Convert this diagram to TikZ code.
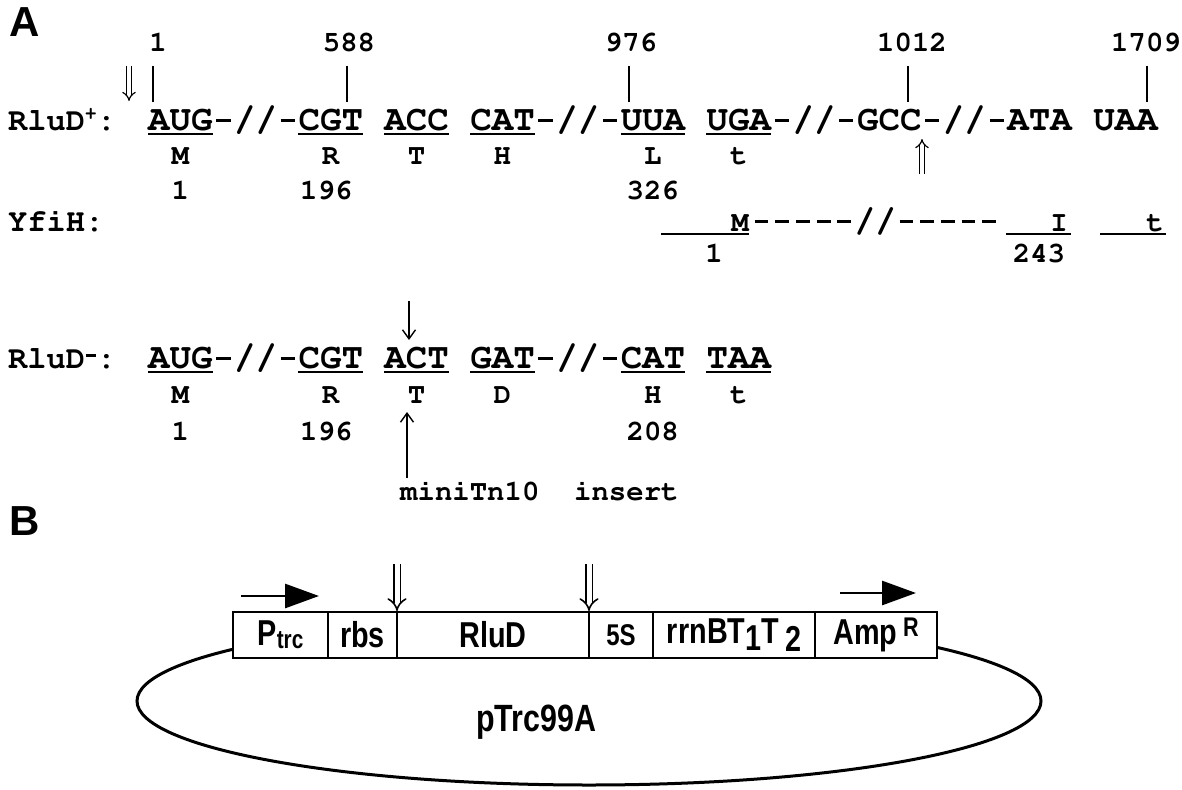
\documentclass[tikz,border=0pt]{standalone}
\usepackage[T1]{fontenc}
\usepackage{fontspec}
\setmainfont{Liberation Sans}
\newfontfamily\sansfam{Liberation Sans}
\newfontfamily\condfam{Liberation Sans}[FakeStretch=0.8]
\usetikzlibrary{arrows.meta}
\newcommand\courb[1]{\fontencoding{T1}\fontfamily{pcr}\fontseries{b}\fontshape{n}\fontsize{#1}{#1}\selectfont}
\newcommand\cdf{\courb{35.8pt}}
\newcommand\dshf{\courb{34.5pt}}
\newcommand\smf{\courb{29pt}}
\newcommand\lbf{\courb{32pt}}
\newcommand\insf{\courb{29pt}}
\newcommand\hy{\hbox to 0.6em{\hss\rule[0.22em]{0.4em}{0.09em}\hss}}
\def\cx#1{{148+21.48*(#1)}}
\tikzset{
  codon/.style={font=\cdf, anchor=base west, inner sep=0pt},
  aa/.style={font=\smf, anchor=base, inner sep=0pt},
  rowlabel/.style={font=\lbf, anchor=base west, inner sep=0pt},
  panel/.style={font=\sansfam\bfseries\fontsize{42pt}{42pt}\selectfont, anchor=north west, inner sep=0pt},
  tickline/.style={line width=2.5pt},
  uline/.style={line width=2pt},
  dbl/.style={double, double distance=3.5pt, line width=1.2pt, -{Implies}},
  bigdbl/.style={double, double distance=5pt, line width=1.6pt, -{Implies}},
  thinarrow/.style={line width=1.4pt, -{Straight Barb[length=9pt,width=13pt]}},
  fatarrow/.style={line width=2.8pt, -{Triangle[length=34pt,width=24pt]}},
  seg/.style={draw, line width=2.5pt, fill=white, minimum height=46pt, inner sep=0pt, font=\condfam\bfseries\fontsize{36pt}{36pt}\selectfont},
}
\begin{document}
\begin{tikzpicture}[x=1pt,y=-1pt]
\useasboundingbox (0,0) rectangle (1182,789);
\fill[white] (0,0) rectangle (1182,789);

% ---------- Panel A ----------
\node[panel] (lblA) at (9,7) {A};

% top numbers
\node[aa] (n1)    at (158,52)  {1};
\node[aa] (n588)  at (349,52)  {588};
\node[aa] (n976)  at (631,52)  {976};
\node[aa] (n1012) at (912,52)  {1012};
\node[aa] (n1709) at (1146,52) {1709};
\coordinate (t1a) at (153,66);    \coordinate (t1b) at (153,102);
\coordinate (t2a) at (347,66);    \coordinate (t2b) at (347,102);
\coordinate (t3a) at (629,66);    \coordinate (t3b) at (629,102);
\coordinate (t4a) at (908,66);    \coordinate (t4b) at (908,102);
\coordinate (t5a) at (1147,66);   \coordinate (t5b) at (1147,102);
\draw[tickline] (t1a) -- (t1b);
\draw[tickline] (t2a) -- (t2b);
\draw[tickline] (t3a) -- (t3b);
\draw[tickline] (t4a) -- (t4b);
\draw[tickline] (t5a) -- (t5b);
\coordinate (da) at (129,66); \coordinate (db) at (129,101);
\draw[dbl] (da) -- (db);

% RluD+ row
\node[rowlabel] (lplus) at (8,130) {RluD\raisebox{10pt}{\courb{20pt}+}:};
\node[codon] (c1) at (\cx{0},130)  {AUG};
\node[codon] (s1) at (\cx{3},130)  {\hy//\hy};
\node[codon] (c2) at (\cx{7},130)  {CGT};
\node[codon] (c3) at (\cx{11},130) {ACC};
\node[codon] (c4) at (\cx{15},130) {CAT};
\node[codon] (s2) at (\cx{18},130) {\hy//\hy};
\node[codon] (c5) at (\cx{22},130) {UUA};
\node[codon] (c6) at (\cx{26},130) {UGA};
\node[codon] (s3) at (\cx{29},130) {\hy//\hy GCC\hy//\hy ATA};
\node[codon] (c7) at (\cx{44},130) {UAA};
\foreach \n in {c1,c2,c3,c4,c5,c6}
  \draw[uline] ([yshift=-4pt]\n.base west) -- ([yshift=-4pt]\n.base east);
\coordinate (ua) at (922,174); \coordinate (ub) at (922,139);
\draw[dbl] (ua) -- (ub);

\node[aa] (a1) at (\cx{1.5},164)  {M};
\node[aa] (a2) at (\cx{8.5},164)  {R};
\node[aa] (a3) at (\cx{12.5},164) {T};
\node[aa] (a4) at (\cx{16.5},164) {H};
\node[aa] (a5) at (\cx{23.5},164) {L};
\node[aa] (a6) at (\cx{27.5},164) {t};
\node[aa] (p1) at (\cx{1.5},199)  {1};
\node[aa] (p2) at (\cx{8.3},199)  {196};
\node[aa] (p3) at (\cx{23.5},199) {326};

% YfiH row
\node[rowlabel] (lyfih) at (8,231) {YfiH:};
\node[aa, anchor=base east] (ym) at (749,231) {M};
\node[anchor=base west, inner sep=0pt, font=\dshf] (yd) at (751,231) {\hy\hy\hy\hy\hy//\hy\hy\hy\hy\hy};
\node[aa, anchor=base east] (yi) at (1068,231) {I};
\node[aa, anchor=base east] (yt) at (1164,231) {t};
\coordinate (y1a) at (661,234);  \coordinate (y1b) at (749,234);
\coordinate (y2a) at (1006,234); \coordinate (y2b) at (1071,234);
\coordinate (y3a) at (1100,234); \coordinate (y3b) at (1166,234);
\draw[uline] (y1a) -- (y1b);
\draw[uline] (y2a) -- (y2b);
\draw[uline] (y3a) -- (y3b);
\node[aa] (yn1) at (714,262)  {1};
\node[aa] (yn2) at (1039,262) {243};

% RluD- row
\coordinate (dwa) at (409,301); \coordinate (dwb) at (409,340);
\draw[thinarrow] (dwa) -- (dwb);
\node[rowlabel] (lminus) at (8,368) {RluD\raisebox{11pt}{\hbox to 12pt{\hss\rule{10pt}{2.6pt}\hss}}:};
\node[codon] (m1) at (\cx{0},368)  {AUG};
\node[codon] (r1) at (\cx{3},368)  {\hy//\hy};
\node[codon] (m2) at (\cx{7},368)  {CGT};
\node[codon] (m3) at (\cx{11},368) {ACT};
\node[codon] (m4) at (\cx{15},368) {GAT};
\node[codon] (r2) at (\cx{18},368) {\hy//\hy};
\node[codon] (m5) at (\cx{22},368) {CAT};
\node[codon] (m6) at (\cx{26},368) {TAA};
\foreach \n in {m1,m2,m3,m4,m5,m6}
  \draw[uline] ([yshift=-4pt]\n.base west) -- ([yshift=-4pt]\n.base east);
\node[aa] (b1) at (\cx{1.5},403)  {M};
\node[aa] (b2) at (\cx{8.5},403)  {R};
\node[aa] (b3) at (\cx{12.5},403) {T};
\node[aa] (b4) at (\cx{16.5},403) {D};
\node[aa] (b5) at (\cx{23.5},403) {H};
\node[aa] (b6) at (\cx{27.5},403) {t};
\node[aa] (q1) at (\cx{1.5},440)  {1};
\node[aa] (q2) at (\cx{8.3},440)  {196};
\node[aa] (q3) at (\cx{23.5},440) {208};
\node[anchor=base west, inner sep=0pt, font=\insf] (ins) at (400,500) {miniTn10\hspace{17.4pt}\hspace{17.4pt}insert};
\coordinate (upa) at (407,478); \coordinate (upb) at (407,412);
\draw[thinarrow] (upa) -- (upb);

% ---------- Panel B ----------
\node[panel] (lblB) at (9,506) {B};

\draw[line width=3pt] (589,701) ellipse [x radius=452pt, y radius=84pt];

\node[seg, minimum width=95pt]  (ptrc) at (280.5,635) {P\raisebox{-3pt}{\fontsize{26pt}{26pt}\selectfont trc}};
\node[seg, minimum width=69pt]  (rbs)  at (362.5,635) {rbs};
\node[seg, minimum width=192pt] (rlud) at (493,635)   {RluD};
\node[seg, minimum width=64pt, font=\condfam\bfseries\fontsize{30pt}{30pt}\selectfont] (fives) at (621,635) {5S};
\node[seg, minimum width=162pt] (rrnb) at (734,635)   {rrnBT\raisebox{-7pt}{1}T\raisebox{-8pt}{\,2}};
\node[seg, minimum width=122pt] (amp)  at (876,635)   {Amp\,\raisebox{8pt}{\fontsize{27pt}{27pt}\selectfont R}};

\coordinate (pa) at (241,596); \coordinate (pb) at (319,596);
\draw[fatarrow] (pa) -- (pb);
\coordinate (aa1) at (840,593); \coordinate (aa2) at (916,593);
\draw[fatarrow] (aa1) -- (aa2);

\coordinate (d1a) at (397,564); \coordinate (d1b) at (397,611);
\coordinate (d2a) at (589,564); \coordinate (d2b) at (589,611);
\draw[bigdbl] (d1a) -- (d1b);
\draw[bigdbl] (d2a) -- (d2b);

\node[font=\condfam\bfseries\fontsize{38pt}{38pt}\selectfont, inner sep=0pt] (plasmid) at (536,722) {pTrc99A};
\end{tikzpicture}
\end{document}
